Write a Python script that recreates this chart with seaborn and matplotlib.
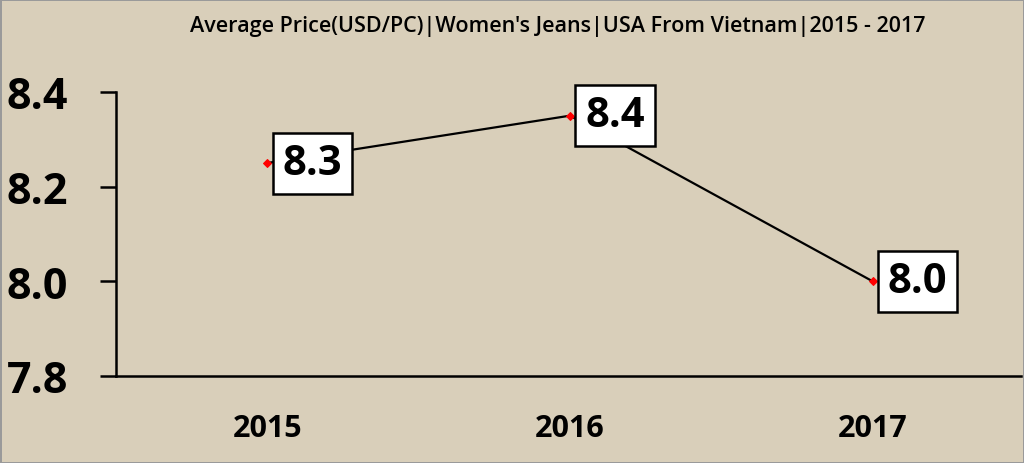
import seaborn as sns
import matplotlib.pyplot as plt
import pandas as pd

years = ["2015", "2016", "2017"]
prices = [8.25, 8.35, 8.0]
labels = ["8.3", "8.4", "8.0"]
yticks = [7.8, 8.0, 8.2, 8.4]

sns.set_style("white")
plt.rcParams['font.family'] = ['Open Sans', 'DejaVu Sans']
plt.rcParams['text.color'] = 'black'
plt.rcParams['xtick.color'] = 'black'
plt.rcParams['ytick.color'] = 'black'

bg = "#d9cfba"
fig = plt.figure(figsize=(10.24, 4.64), dpi=100, facecolor=bg)
fig.patch.set_edgecolor("#9a9a9a")
fig.patch.set_linewidth(2)
ax = fig.add_axes([116 / 1024, 1 - 377 / 464, (1021 - 116) / 1024, (377 - 93) / 464])
ax.set_facecolor("none")

df = pd.DataFrame({"year": years, "price": prices})
sns.lineplot(data=df, x="year", y="price", ax=ax, color="black", linewidth=1.6,
             marker="D", markersize=4, markerfacecolor="red", markeredgecolor="red",
             zorder=2)

# value boxes to the right of each point
for i, (p, lab) in enumerate(zip(prices, labels)):
    ax.annotate(lab, (i, p), xytext=(11, 0), textcoords="offset points",
                ha="left", va="center", fontsize=30, fontweight="bold", color="black",
                bbox=dict(boxstyle="square,pad=0.24", fc="white", ec="black", lw=1.8),
                zorder=5)

ax.set_xlim(-0.5, 2.49)
ax.set_ylim(7.8, 8.4)
ax.set_yticks(yticks)
ax.set_yticklabels([f"{t:.1f}" for t in yticks])
ax.set_xlabel("")
ax.set_ylabel("")
sns.despine(ax=ax)
for s in ["left", "bottom"]:
    ax.spines[s].set_linewidth(1.8)
    ax.spines[s].set_color("black")
ax.tick_params(axis="y", left=True, length=11.5, width=1.8, pad=23, labelsize=31)
ax.tick_params(axis="x", bottom=False, length=0, pad=27, labelsize=22)
for t in ax.get_yticklabels() + ax.get_xticklabels():
    t.set_fontweight("bold")

fig.text(0.545, 0.942, "Average Price(USD/PC)|Women's Jeans|USA From Vietnam|2015 - 2017",
         ha="center", va="center", fontsize=15.5, fontweight="semibold", color="black")

fig.savefig("out.png", dpi=100, facecolor=bg, edgecolor="#9a9a9a")
